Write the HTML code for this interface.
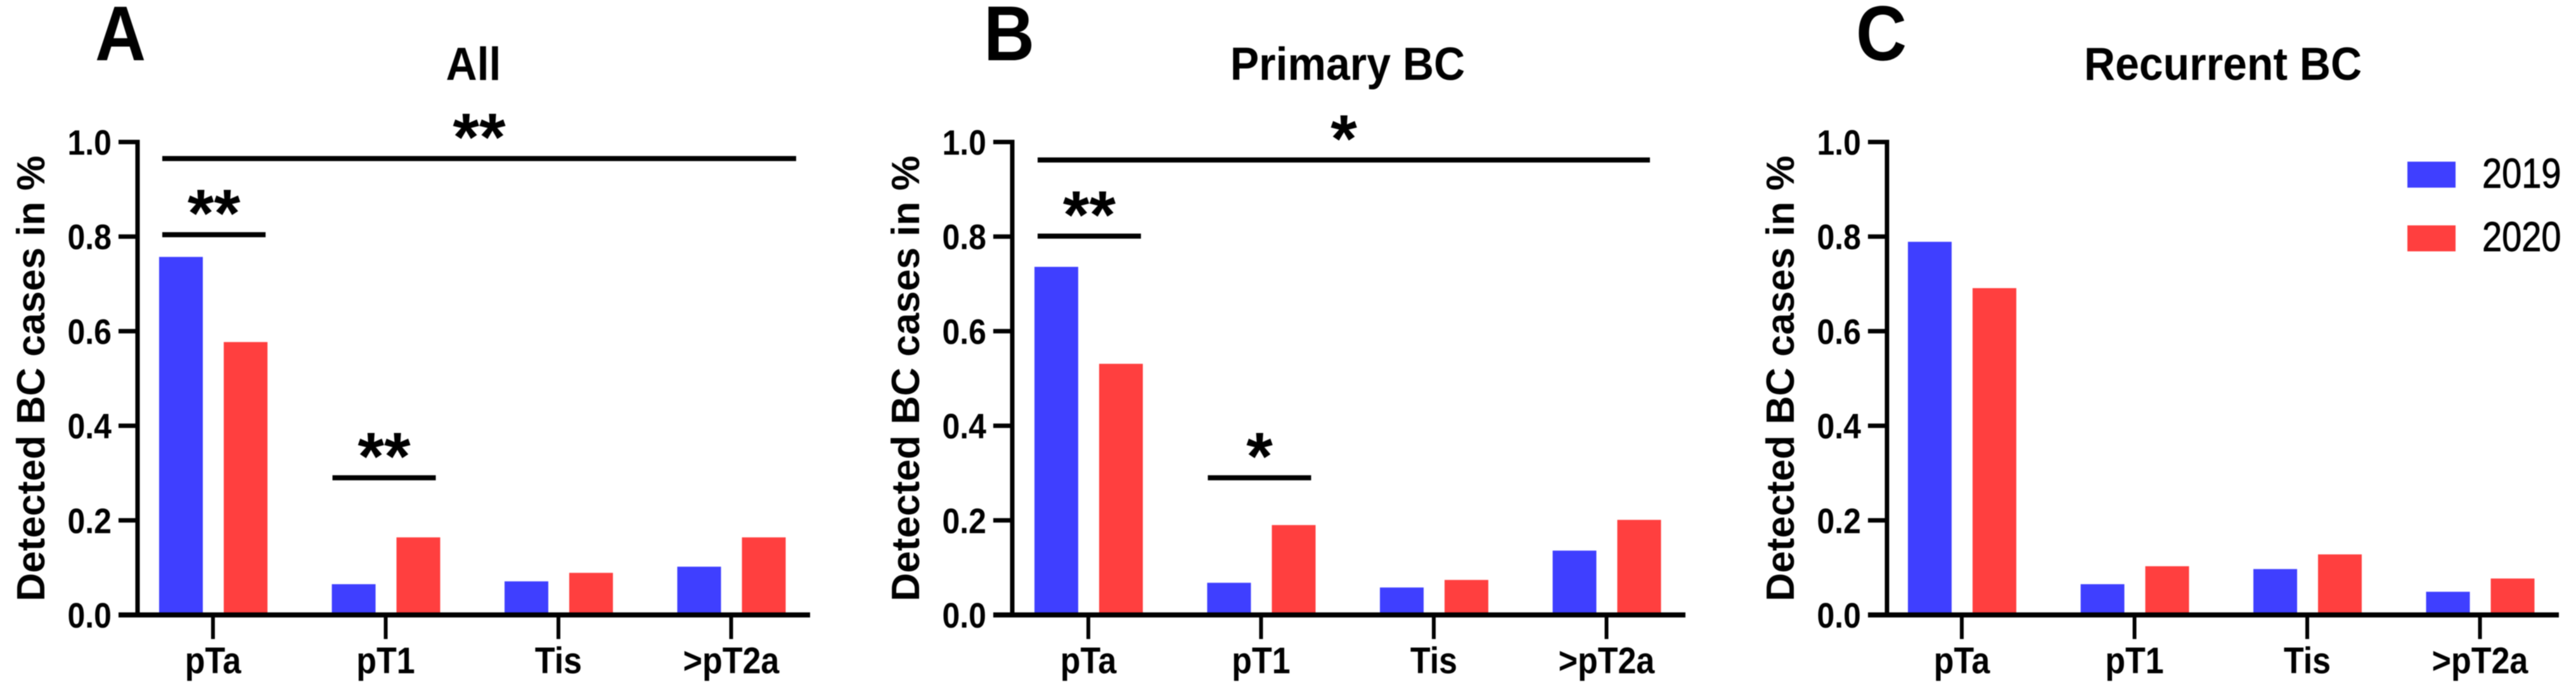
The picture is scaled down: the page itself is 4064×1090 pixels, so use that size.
<!DOCTYPE html>
<html>
<head>
<meta charset="utf-8">
<title>Detected BC cases by stage</title>
<style>
html,body{margin:0;padding:0;background:#fff;width:4064px;height:1090px;overflow:hidden}
svg{display:block;filter:blur(0.8px)}
text{font-family:"Liberation Sans",Arial,sans-serif;fill:#000}
</style>
</head>
<body>
<svg id="chart" xmlns="http://www.w3.org/2000/svg" width="4064" height="1090" viewBox="0 0 4064 1090"></svg>
<script>
const categories = ['pTa', 'pT1', 'Tis', '>pT2a'];
const yTickValues = [0, 0.2, 0.4, 0.6, 0.8, 1];
const yTickLabels = ['0.0', '0.2', '0.4', '0.6', '0.8', '1.0'];
const seriesNames = ['2019', '2020'];
const allValues2019 = [0.757, 0.065, 0.071, 0.102];
const allValues2020 = [0.577, 0.164, 0.089, 0.164];
const primaryValues2019 = [0.736, 0.068, 0.058, 0.136];
const primaryValues2020 = [0.531, 0.19, 0.074, 0.201];
const recurrentValues2019 = [0.789, 0.065, 0.097, 0.049];
const recurrentValues2020 = [0.691, 0.103, 0.128, 0.077];
const allSigLevels = [0.965, 0.804, 0.29];
const allSigStars = ['**', '**', '**'];
const primarySigLevels = [0.962, 0.801, 0.29];
const primarySigStars = ['*', '**', '*'];

const svg = document.getElementById('chart');
const NS = 'http://www.w3.org/2000/svg';
const COLOR_2019 = '#3f3fff';
const COLOR_2020 = '#ff3f3f';
const Y0 = 970, Y_SPAN = 746, STEP = 272.5;
const yScale = v => Y0 - Y_SPAN * v;

function rect(parent, x, y, w, h, fill) {
  const el = document.createElementNS(NS, 'rect');
  el.setAttribute('x', x);
  el.setAttribute('y', y);
  el.setAttribute('width', w);
  el.setAttribute('height', h);
  el.setAttribute('fill', fill);
  parent.appendChild(el);
  return el;
}
function label(parent, str, x, y, size, sy, anchor, weight, rotate) {
  const el = document.createElementNS(NS, 'text');
  el.textContent = str;
  el.setAttribute('text-anchor', anchor);
  el.setAttribute('font-size', size);
  el.setAttribute('font-weight', weight);
  const tf = rotate
    ? `translate(${x},${y}) rotate(-90) scale(${sy},1)`
    : `translate(${x},${y}) scale(1,${sy})`;
  el.setAttribute('transform', tf);
  parent.appendChild(el);
  return el;
}

function drawPanel(key, letter, letterX, title, titleX, axisX, firstTick, endX, v2019, v2020) {
  const g = document.createElementNS(NS, 'g');
  
  
  svg.appendChild(g);

  const letterEl = label(g, letter, letterX, 95, 111, 1.1, 'start', 'bold');
  
  

  const titleEl = label(g, title, titleX, 126, 68, 1.08, 'middle', 'bold');
  
  

  const yTitle = label(g, 'Detected BC cases in %', axisX - 147, 597, 62, 1, 'middle', 'bold', true);
  
  

  categories.forEach((cat, i) => {
    const cx = firstTick + STEP * i;
    const b1 = rect(g, cx - 85, yScale(v2019[i]), 69, Y0 - yScale(v2019[i]), COLOR_2019);
    
    
    const b2 = rect(g, cx + 17, yScale(v2020[i]), 69, Y0 - yScale(v2020[i]), COLOR_2020);
    
    
    const tick = rect(g, cx - 3, Y0, 6, 38, '#000');
    
    
    const catEl = label(g, cat, cx, 1062, 52, 1.12, 'middle', 'bold');
    
    
  });

  yTickValues.forEach((v, i) => {
    const y = yScale(v);
    const tick = rect(g, axisX - 30, y - 3.5, 30, 7, '#000');
    
    
    const txt = label(g, yTickLabels[i], axisX - 41, y + 20, 50, 1.12, 'end', 'bold');
    
    
  });

  const yAxis = rect(g, axisX - 3.5, yScale(1) - 3.5, 7, Y_SPAN + 7, '#000');
  
  
  const xAxis = rect(g, axisX - 30, Y0 - 4, endX - axisX + 30, 8, '#000');
  
  
}

function drawSig(key, levels, stars, firstTick, wideEnd, catWidth) {
  const spans = [
    [firstTick - 80, wideEnd],
    [firstTick - 80, firstTick - 80 + catWidth],
    [firstTick + STEP - 84, firstTick + STEP - 84 + catWidth]
  ];
  levels.forEach((lv, i) => {
    const y = yScale(lv);
    const line = rect(svg, spans[i][0], y - 4, spans[i][1] - spans[i][0], 8, '#000');
    
    
    const mid = (spans[i][0] + spans[i][1]) / 2;
    const s = label(svg, stars[i], mid, y + 3, 107, 1, 'middle', 'bold');
    
    
  });
}

function drawLegend() {
  const g = document.createElementNS(NS, 'g');
  
  
  svg.appendChild(g);
  seriesNames.forEach((name, i) => {
    const sw = rect(g, 3798, 255 + 100.5 * i, 76, 41, i === 0 ? COLOR_2019 : COLOR_2020);
    
    
    const t = label(g, name, 3916, 296 + 100 * i, 56, 1.17, 'start', 'normal');
    t.setAttribute('stroke', '#000');
    t.setAttribute('stroke-width', '0.8');
    
    
  });
}

drawPanel('all', 'A', 150, 'All', 747, 217, 336, 1278, allValues2019, allValues2020);
drawPanel('primary', 'B', 1552, 'Primary BC', 2126, 1597, 1717, 2659, primaryValues2019, primaryValues2020);
drawPanel('recurrent', 'C', 2928, 'Recurrent BC', 3507, 2977, 3095, 4037, recurrentValues2019, recurrentValues2020);
drawSig('all', allSigLevels, allSigStars, 336, 1256, 163);
drawSig('primary', primarySigLevels, primarySigStars, 1717, 2603, 163);
drawLegend();
</script>
</body>
</html>
